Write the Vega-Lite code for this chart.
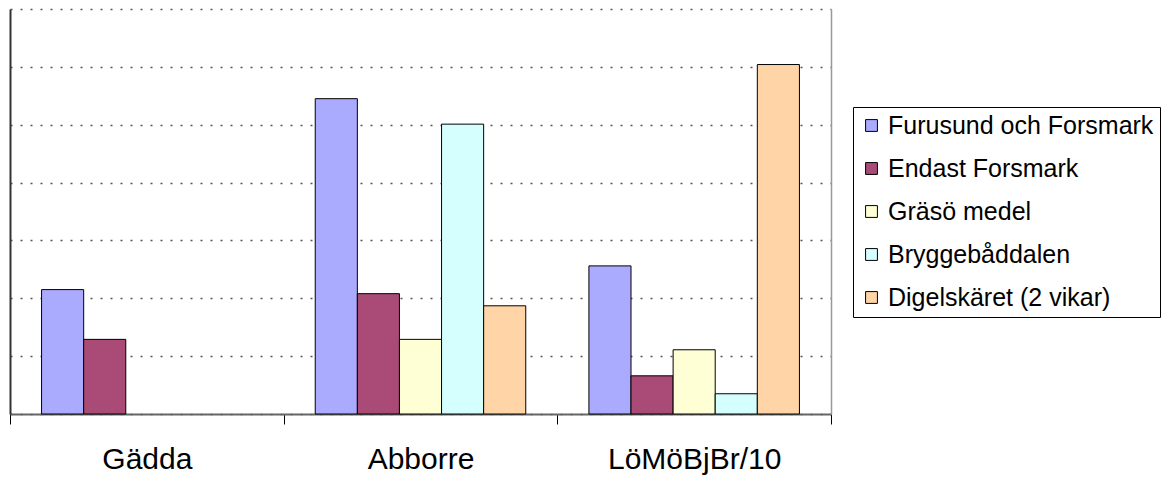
{
  "$schema": "https://vega.github.io/schema/vega-lite/v6.json",
  "width": 821,
  "height": 405,
  "autosize": {"type": "none"},
  "padding": {"left": 10, "top": 9, "right": 333, "bottom": 63},
  "background": "white",
  "config": {
    "view": {"stroke": null},
    "font": "Liberation Sans"
  },
  "data": {
    "values": [
      {"art": "Gädda", "serie": "Furusund och Forsmark", "varde": 2.15},
      {"art": "Gädda", "serie": "Endast Forsmark", "varde": 1.29},
      {"art": "Abborre", "serie": "Furusund och Forsmark", "varde": 5.45},
      {"art": "Abborre", "serie": "Endast Forsmark", "varde": 2.08},
      {"art": "Abborre", "serie": "Gräsö medel", "varde": 1.29},
      {"art": "Abborre", "serie": "Bryggebåddalen", "varde": 5.01},
      {"art": "Abborre", "serie": "Digelskäret (2 vikar)", "varde": 1.87},
      {"art": "LöMöBjBr/10", "serie": "Furusund och Forsmark", "varde": 2.56},
      {"art": "LöMöBjBr/10", "serie": "Endast Forsmark", "varde": 0.66},
      {"art": "LöMöBjBr/10", "serie": "Gräsö medel", "varde": 1.11},
      {"art": "LöMöBjBr/10", "serie": "Bryggebåddalen", "varde": 0.35},
      {"art": "LöMöBjBr/10", "serie": "Digelskäret (2 vikar)", "varde": 6.04}
    ]
  },
  "layer": [
    {
      "mark": {"type": "bar", "stroke": "black", "strokeWidth": 1},
      "encoding": {
        "x": {
          "field": "art", "type": "nominal",
          "sort": ["Gädda", "Abborre", "LöMöBjBr/10"],
          "scale": {"domain": ["Gädda", "Abborre", "LöMöBjBr/10"], "paddingInner": 0, "paddingOuter": 0},
          "axis": {
            "title": null, "labelAngle": 0, "labelFontSize": 30, "labelColor": "black",
            "labelPadding": 20, "tickBand": "extent", "tickSize": 10, "tickColor": "black",
            "tickWidth": 1, "domainColor": "#666666", "domainWidth": 2, "grid": false
          }
        },
        "xOffset": {
          "field": "serie", "type": "nominal",
          "scale": {
            "domain": ["Furusund och Forsmark", "Endast Forsmark", "Gräsö medel", "Bryggebåddalen", "Digelskäret (2 vikar)"],
            "paddingInner": 0, "paddingOuter": 0.75
          }
        },
        "y": {
          "field": "varde", "type": "quantitative",
          "scale": {"domain": [0, 7], "nice": false, "zero": true},
          "axis": {
            "title": null, "labels": false, "ticks": false, "values": [0, 1, 2, 3, 4, 5, 6, 7],
            "grid": true, "gridColor": "#555555", "gridDash": [2, 8], "gridWidth": 1.5,
            "domainColor": "#333333", "domainWidth": 2
          }
        },
        "color": {
          "field": "serie", "type": "nominal",
          "scale": {
            "domain": ["Furusund och Forsmark", "Endast Forsmark", "Gräsö medel", "Bryggebåddalen", "Digelskäret (2 vikar)"],
            "range": ["#AAAAFF", "#AA4A77", "#FFFFD5", "#D5FFFF", "#FFD5A8"]
          },
          "legend": {
            "title": null, "orient": "none", "legendX": 843, "legendY": 98,
            "strokeColor": "black", "fillColor": "white", "padding": 6,
            "labelFontSize": 25, "labelColor": "black", "labelLimit": 500, "labelOffset": 4,
            "symbolType": "square", "symbolSize": 140, "symbolStrokeColor": "black",
            "symbolStrokeWidth": 1, "rowPadding": 17
          }
        }
      }
    },
    {
      "mark": {"type": "rule", "opacity": 0},
      "encoding": {
        "y": {
          "field": "varde", "type": "quantitative",
          "axis": {
            "orient": "right", "title": null, "labels": false, "ticks": false, "grid": false,
            "domainColor": "#999999", "domainWidth": 1.5
          }
        }
      }
    }
  ],
  "resolve": {"axis": {"y": "independent"}}
}
